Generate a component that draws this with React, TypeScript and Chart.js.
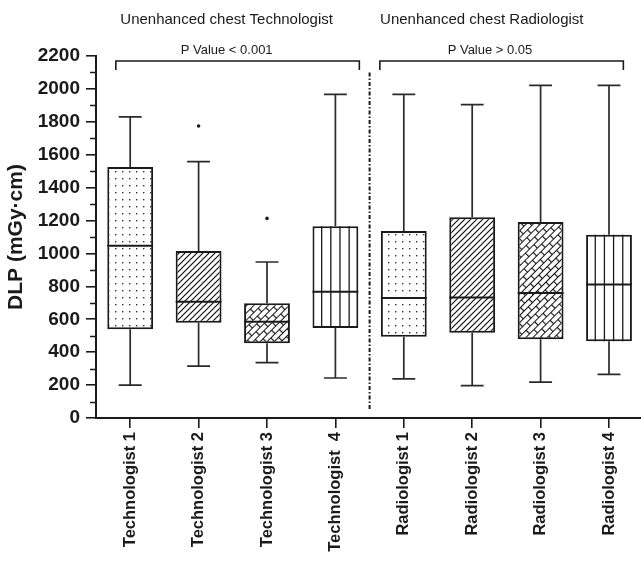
import React, { useEffect, useRef } from 'react';
import { Chart, registerables } from 'chart.js';

Chart.register(...registerables);

// ---- data ----
const categories = [
  'Technologist 1',
  'Technologist 2',
  'Technologist 3',
  'Technologist  4',
  'Radiologist 1',
  'Radiologist 2',
  'Radiologist 3',
  'Radiologist 4',
];
const whiskerLow = [200, 315, 337, 243, 238, 197, 218, 265];
const q1 = [539, 579, 454, 547, 494, 518, 478, 466];
const median = [1047, 707, 585, 768, 729, 733, 760, 812];
const q3 = [1525, 1015, 697, 1165, 1136, 1220, 1191, 1114];
const whiskerHigh = [1830, 1558, 948, 1967, 1967, 1905, 2022, 2022];
const outliers: (number | null)[] = [null, 1775, 1213, null, null, null, null, null];
const fills = ['dots', 'diag', 'brick', 'vlines', 'dots', 'diag', 'brick', 'vlines'];

const yTicksMax = 2200;
const yStep = 200;
const yMinorStep = 100;

const groupTitles = ['Unenhanced chest Technologist', 'Unenhanced chest Radiologist'];
const pValueLabels = ['P Value < 0.001', 'P Value > 0.05'];

// ---- annotation placement (category index / value units) ----
const groupTitlePos = [1.41, 5.14];
const groupTitleValue = 2420;
const pLabelPos = [1.41, 5.26];
const pLabelValue = 2236;
const bracketFrom = [-0.21, 3.65];
const bracketTo = [3.35, 7.21];
const bracketTopValue = 2170;
const bracketLegValue = 2115;
const separatorTop = 2100;
const separatorBottom = 50;

const FONT = 'Arial, "Liberation Sans", Helvetica, sans-serif';
const INK = '#1a1a1a';

function makeTile(w: number, h: number, draw: (g: CanvasRenderingContext2D) => void) {
  const c = document.createElement('canvas');
  c.width = w;
  c.height = h;
  const g = c.getContext('2d')!;
  g.fillStyle = '#fff';
  g.fillRect(0, 0, w, h);
  draw(g);
  return c;
}

function makePatterns(ctx: CanvasRenderingContext2D) {
  const dots = ctx.createPattern(
    makeTile(7, 7, (g) => {
      g.fillStyle = '#333';
      g.fillRect(3, 3, 1.4, 1.4);
    }),
    'repeat'
  );
  const diag = ctx.createPattern(
    makeTile(6, 6, (g) => {
      g.strokeStyle = '#111';
      g.lineWidth = 1.2;
      g.beginPath();
      g.moveTo(-1, 7);
      g.lineTo(7, -1);
      g.moveTo(-1, 1);
      g.lineTo(1, -1);
      g.moveTo(5, 7);
      g.lineTo(7, 5);
      g.stroke();
    }),
    'repeat'
  );
  const brick = ctx.createPattern(
    makeTile(12, 10, (g) => {
      g.strokeStyle = '#111';
      g.lineWidth = 1.2;
      g.beginPath();
      g.moveTo(0, 0.5);
      g.lineTo(12, 0.5);
      g.moveTo(0, 5.5);
      g.lineTo(12, 5.5);
      g.moveTo(0.5, 0.5);
      g.lineTo(0.5, 5.5);
      g.moveTo(6.5, 5.5);
      g.lineTo(6.5, 10.5);
      g.stroke();
    }),
    'repeat'
  );
  try {
    brick && brick.setTransform(new DOMMatrix().rotate(-45));
  } catch (e) {
    /* ignore */
  }
  const map: Record<string, any> = { dots, diag, brick, vlines: '#fff' };
  return fills.map((f) => map[f]);
}

const boxPlugin = {
  id: 'boxExtras',
  beforeDatasetsDraw(chart: any) {
    const { ctx } = chart;
    const y = chart.scales.y;
    const meta = chart.getDatasetMeta(0);
    ctx.save();
    ctx.strokeStyle = '#2a2a2a';
    ctx.lineWidth = 1.7;
    meta.data.forEach((bar: any, i: number) => {
      const { x, width } = bar.getProps(['x', 'width'], true);
      const half = width / 4;
      const yl = y.getPixelForValue(whiskerLow[i]);
      const yh = y.getPixelForValue(whiskerHigh[i]);
      const y1 = y.getPixelForValue(q1[i]);
      const y3 = y.getPixelForValue(q3[i]);
      ctx.beginPath();
      ctx.moveTo(x, yl);
      ctx.lineTo(x, y1);
      ctx.moveTo(x, y3);
      ctx.lineTo(x, yh);
      ctx.moveTo(x - half, yl);
      ctx.lineTo(x + half, yl);
      ctx.moveTo(x - half, yh);
      ctx.lineTo(x + half, yh);
      ctx.stroke();
    });
    ctx.restore();
  },
  afterDatasetsDraw(chart: any) {
    const { ctx } = chart;
    const xs = chart.scales.x;
    const y = chart.scales.y;
    const meta = chart.getDatasetMeta(0);
    ctx.save();
    // vertical-line fill and medians
    meta.data.forEach((bar: any, i: number) => {
      const { x, width } = bar.getProps(['x', 'width'], true);
      const y1 = y.getPixelForValue(q1[i]);
      const y3 = y.getPixelForValue(q3[i]);
      const left = x - width / 2;
      if (fills[i] === 'vlines') {
        ctx.strokeStyle = INK;
        ctx.lineWidth = 1.3;
        ctx.beginPath();
        for (let k = 1; k < 5; k++) {
          const lx = left + (width * k) / 5;
          ctx.moveTo(lx, y3);
          ctx.lineTo(lx, y1);
        }
        ctx.stroke();
      }
      const ym = y.getPixelForValue(median[i]);
      ctx.strokeStyle = INK;
      ctx.lineWidth = 2;
      ctx.beginPath();
      ctx.moveTo(left, ym);
      ctx.lineTo(left + width, ym);
      ctx.stroke();
    });

    // separator (dash-dot) between the two groups
    const sepX = (xs.getPixelForValue(3) + xs.getPixelForValue(4)) / 2;
    ctx.strokeStyle = INK;
    ctx.lineWidth = 2;
    ctx.setLineDash([4, 2, 1.5, 2]);
    ctx.beginPath();
    ctx.moveTo(sepX, y.getPixelForValue(separatorTop));
    ctx.lineTo(sepX, y.getPixelForValue(separatorBottom));
    ctx.stroke();
    ctx.setLineDash([]);

    // brackets
    ctx.lineWidth = 1.6;
    const bt = y.getPixelForValue(bracketTopValue);
    const bl = y.getPixelForValue(bracketLegValue);
    for (let g = 0; g < 2; g++) {
      const a = xs.getPixelForValue(bracketFrom[g]);
      const b = xs.getPixelForValue(bracketTo[g]);
      ctx.beginPath();
      ctx.moveTo(a, bl);
      ctx.lineTo(a, bt);
      ctx.lineTo(b, bt);
      ctx.lineTo(b, bl);
      ctx.stroke();
    }

    // texts
    ctx.fillStyle = INK;
    ctx.textAlign = 'center';
    ctx.textBaseline = 'middle';
    ctx.font = `13px ${FONT}`;
    for (let g = 0; g < 2; g++) {
      ctx.fillText(pValueLabels[g], xs.getPixelForValue(pLabelPos[g]), y.getPixelForValue(pLabelValue));
    }
    ctx.font = `15px ${FONT}`;
    for (let g = 0; g < 2; g++) {
      ctx.fillText(groupTitles[g], xs.getPixelForValue(groupTitlePos[g]), y.getPixelForValue(groupTitleValue));
    }

    // minor y ticks
    ctx.strokeStyle = INK;
    ctx.lineWidth = 1.5;
    ctx.beginPath();
    for (let v = yMinorStep; v < yTicksMax; v += yStep) {
      const py = Math.round(y.getPixelForValue(v)) + 0.5;
      ctx.moveTo(y.right - 6, py);
      ctx.lineTo(y.right, py);
    }
    ctx.stroke();
    ctx.restore();
  },
};

export default function App() {
  const ref = useRef<HTMLCanvasElement | null>(null);
  useEffect(() => {
    const canvas = ref.current!;
    const ctx = canvas.getContext('2d')!;
    const patterns = makePatterns(ctx);
    const chart = new Chart(ctx, {
      type: 'bar',
      data: {
        labels: categories,
        datasets: [
          {
            type: 'bar',
            data: q1.map((v, i) => [v, q3[i]]) as any,
            backgroundColor: patterns,
            borderColor: INK,
            borderWidth: 2,
            borderSkipped: false,
            barPercentage: 0.67,
            categoryPercentage: 1,
          } as any,
          {
            type: 'line',
            data: outliers as any,
            showLine: false,
            pointRadius: 1.8,
            pointHoverRadius: 1.8,
            pointBackgroundColor: INK,
            pointBorderWidth: 0,
            borderColor: INK,
          } as any,
        ],
      },
      options: {
        animation: false,
        responsive: true,
        maintainAspectRatio: false,
        events: [],
        layout: { padding: { top: 56, left: 0, right: 0, bottom: 0 } },
        plugins: { legend: { display: false }, tooltip: { enabled: false } },
        scales: {
          x: {
            type: 'category',
            offset: true,
            grid: {
              display: true,
              drawOnChartArea: false,
              offset: false,
              tickLength: 10,
              color: INK,
              lineWidth: 1.6,
            },
            border: { display: true, color: INK, width: 2 },
            ticks: {
              autoSkip: false,
              minRotation: 90,
              maxRotation: 90,
              padding: 4,
              color: INK,
              font: { family: FONT, size: 16.5, weight: 'bold' },
            },
            afterFit: (s: any) => {
              s.height = 143;
            },
          },
          y: {
            min: 0,
            max: yTicksMax,
            grid: {
              display: true,
              drawOnChartArea: false,
              tickLength: 10,
              color: INK,
              lineWidth: 1.6,
            },
            border: { display: true, color: INK, width: 2 },
            ticks: {
              stepSize: yStep,
              padding: 6,
              color: INK,
              font: { family: FONT, size: 19, weight: 'bold' },
              callback: (v: any) => String(v),
            },
            title: {
              display: true,
              text: 'DLP (mGy·cm)',
              color: INK,
              font: { family: FONT, size: 21, weight: 'bold' },
              padding: { top: 4, bottom: 4 },
            },
            afterFit: (s: any) => {
              s.width = 96;
            },
          },
        },
      } as any,
      plugins: [boxPlugin],
    });
    return () => chart.destroy();
  }, []);

  return (
    <div
      style={{
        position: 'fixed',
        left: 0,
        top: 0,
        width: 641,
        height: 561,
        overflow: 'hidden',
        background: '#fff',
      }}
    >
      <div style={{ position: 'relative', width: 645, height: 561 }}>
        <canvas ref={ref} />
      </div>
    </div>
  );
}
